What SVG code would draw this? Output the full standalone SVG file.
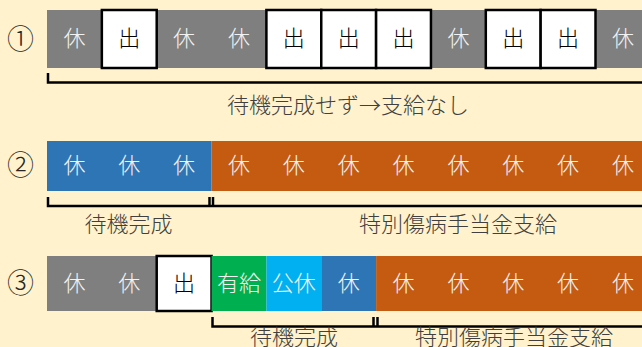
<svg xmlns="http://www.w3.org/2000/svg" width="642" height="347" viewBox="0 0 642 347">
<style>
text{font-family:"Noto Sans CJK JP","Noto Sans CJK SC",sans-serif;text-anchor:middle;font-weight:300}
.c{font-size:22px;fill:#F2F2F2}
.d{font-size:22px;fill:#000}
.lb{font-size:22px;fill:#404040}
.num{font-size:27px;fill:#262626}
.gy{fill:#7F7F7F}.bl{fill:#2E75B6}.or{fill:#C55A11}.gr{fill:#00B050}.cy{fill:#00B0F0}
.wt{fill:#FFFFFF;stroke:#000;stroke-width:2.5}
.br{fill:none;stroke:#000;stroke-width:2.5}
</style>
<rect width="642" height="347" fill="#FFF2CC"/>
<g id="labels-num">
<text class="num" x="20.5" y="49">①</text>
<text class="num" x="20.5" y="175">②</text>
<text class="num" x="20.5" y="293">③</text>
</g>
<g id="row1">
<rect class="gy" x="47" y="10" width="595" height="58"/>
<g id="r1c0"><text class="c" x="74.4" y="45.5">休</text></g>
<g id="r1c1"><rect class="wt" x="101.85" y="10" width="54.85" height="58"/><text class="d" x="129.3" y="45.5">出</text></g>
<g id="r1c2"><text class="c" x="184.1" y="45.5">休</text></g>
<g id="r1c3"><text class="c" x="239" y="45.5">休</text></g>
<g id="r1c4"><rect class="wt" x="266.4" y="10" width="54.85" height="58"/><text class="d" x="293.8" y="45.5">出</text></g>
<g id="r1c5"><rect class="wt" x="321.25" y="10" width="54.85" height="58"/><text class="d" x="348.7" y="45.5">出</text></g>
<g id="r1c6"><rect class="wt" x="376.1" y="10" width="54.85" height="58"/><text class="d" x="403.5" y="45.5">出</text></g>
<g id="r1c7"><text class="c" x="458.4" y="45.5">休</text></g>
<g id="r1c8"><rect class="wt" x="485.8" y="10" width="54.85" height="58"/><text class="d" x="513.2" y="45.5">出</text></g>
<g id="r1c9"><rect class="wt" x="540.65" y="10" width="54.85" height="58"/><text class="d" x="568.1" y="45.5">出</text></g>
<g id="r1c10"><text class="c" x="622.9" y="45.5">休</text></g>
</g>
<g id="row2">
<g id="r2-wait"><rect class="bl" x="47" y="141" width="164.55" height="50"/>
<text class="c" x="74.4" y="173">休</text><text class="c" x="129.3" y="173">休</text><text class="c" x="184.1" y="173">休</text></g>
<g id="r2-pay"><rect class="or" x="211.55" y="141" width="430.45" height="50"/>
<text class="c" x="239" y="173">休</text><text class="c" x="293.8" y="173">休</text><text class="c" x="348.7" y="173">休</text><text class="c" x="403.5" y="173">休</text><text class="c" x="458.4" y="173">休</text><text class="c" x="513.2" y="173">休</text><text class="c" x="568.1" y="173">休</text><text class="c" x="622.9" y="173">休</text></g>
</g>
<g id="row3">
<g id="r3-rest"><rect class="gy" x="47" y="256" width="109.7" height="55"/>
<text class="c" x="74.4" y="291">休</text><text class="c" x="129.3" y="291">休</text></g>
<g id="r3-work"><rect class="wt" x="156.7" y="256" width="54.85" height="55"/><text class="d" x="184.1" y="291">出</text></g>
<g id="r3-paid"><rect class="gr" x="211.55" y="256" width="54.85" height="55"/><text class="c" x="239" y="291">有給</text></g>
<g id="r3-holiday"><rect class="cy" x="266.4" y="256" width="54.85" height="55"/><text class="c" x="293.8" y="291">公休</text></g>
<g id="r3-rest2"><rect class="bl" x="321.25" y="256" width="54.85" height="55"/><text class="c" x="348.7" y="291">休</text></g>
<g id="r3-pay"><rect class="or" x="376.1" y="256" width="265.9" height="55"/>
<text class="c" x="403.5" y="291">休</text><text class="c" x="458.4" y="291">休</text><text class="c" x="513.2" y="291">休</text><text class="c" x="568.1" y="291">休</text><text class="c" x="622.9" y="291">休</text></g>
</g>
<g id="connectors">
<path class="br" d="M48,73 V82.5 H642"/>
<path class="br" d="M48,197 V206 H642 M209.5,197 V206 M213,197 V206"/>
<path class="br" d="M212.5,317 V326.5 H642 M373.5,317 V326.5 M377.5,317 V326.5"/>
</g>
<g id="bracket-labels">
<text class="lb" x="348" y="112.5">待機完成せず→支給なし</text>
<text class="lb" x="128.5" y="232">待機完成</text>
<text class="lb" x="458" y="232">特別傷病手当金支給</text>
<text class="lb" x="294" y="345">待機完成</text>
<text class="lb" x="514" y="345">特別傷病手当金支給</text>
</g>
</svg>
